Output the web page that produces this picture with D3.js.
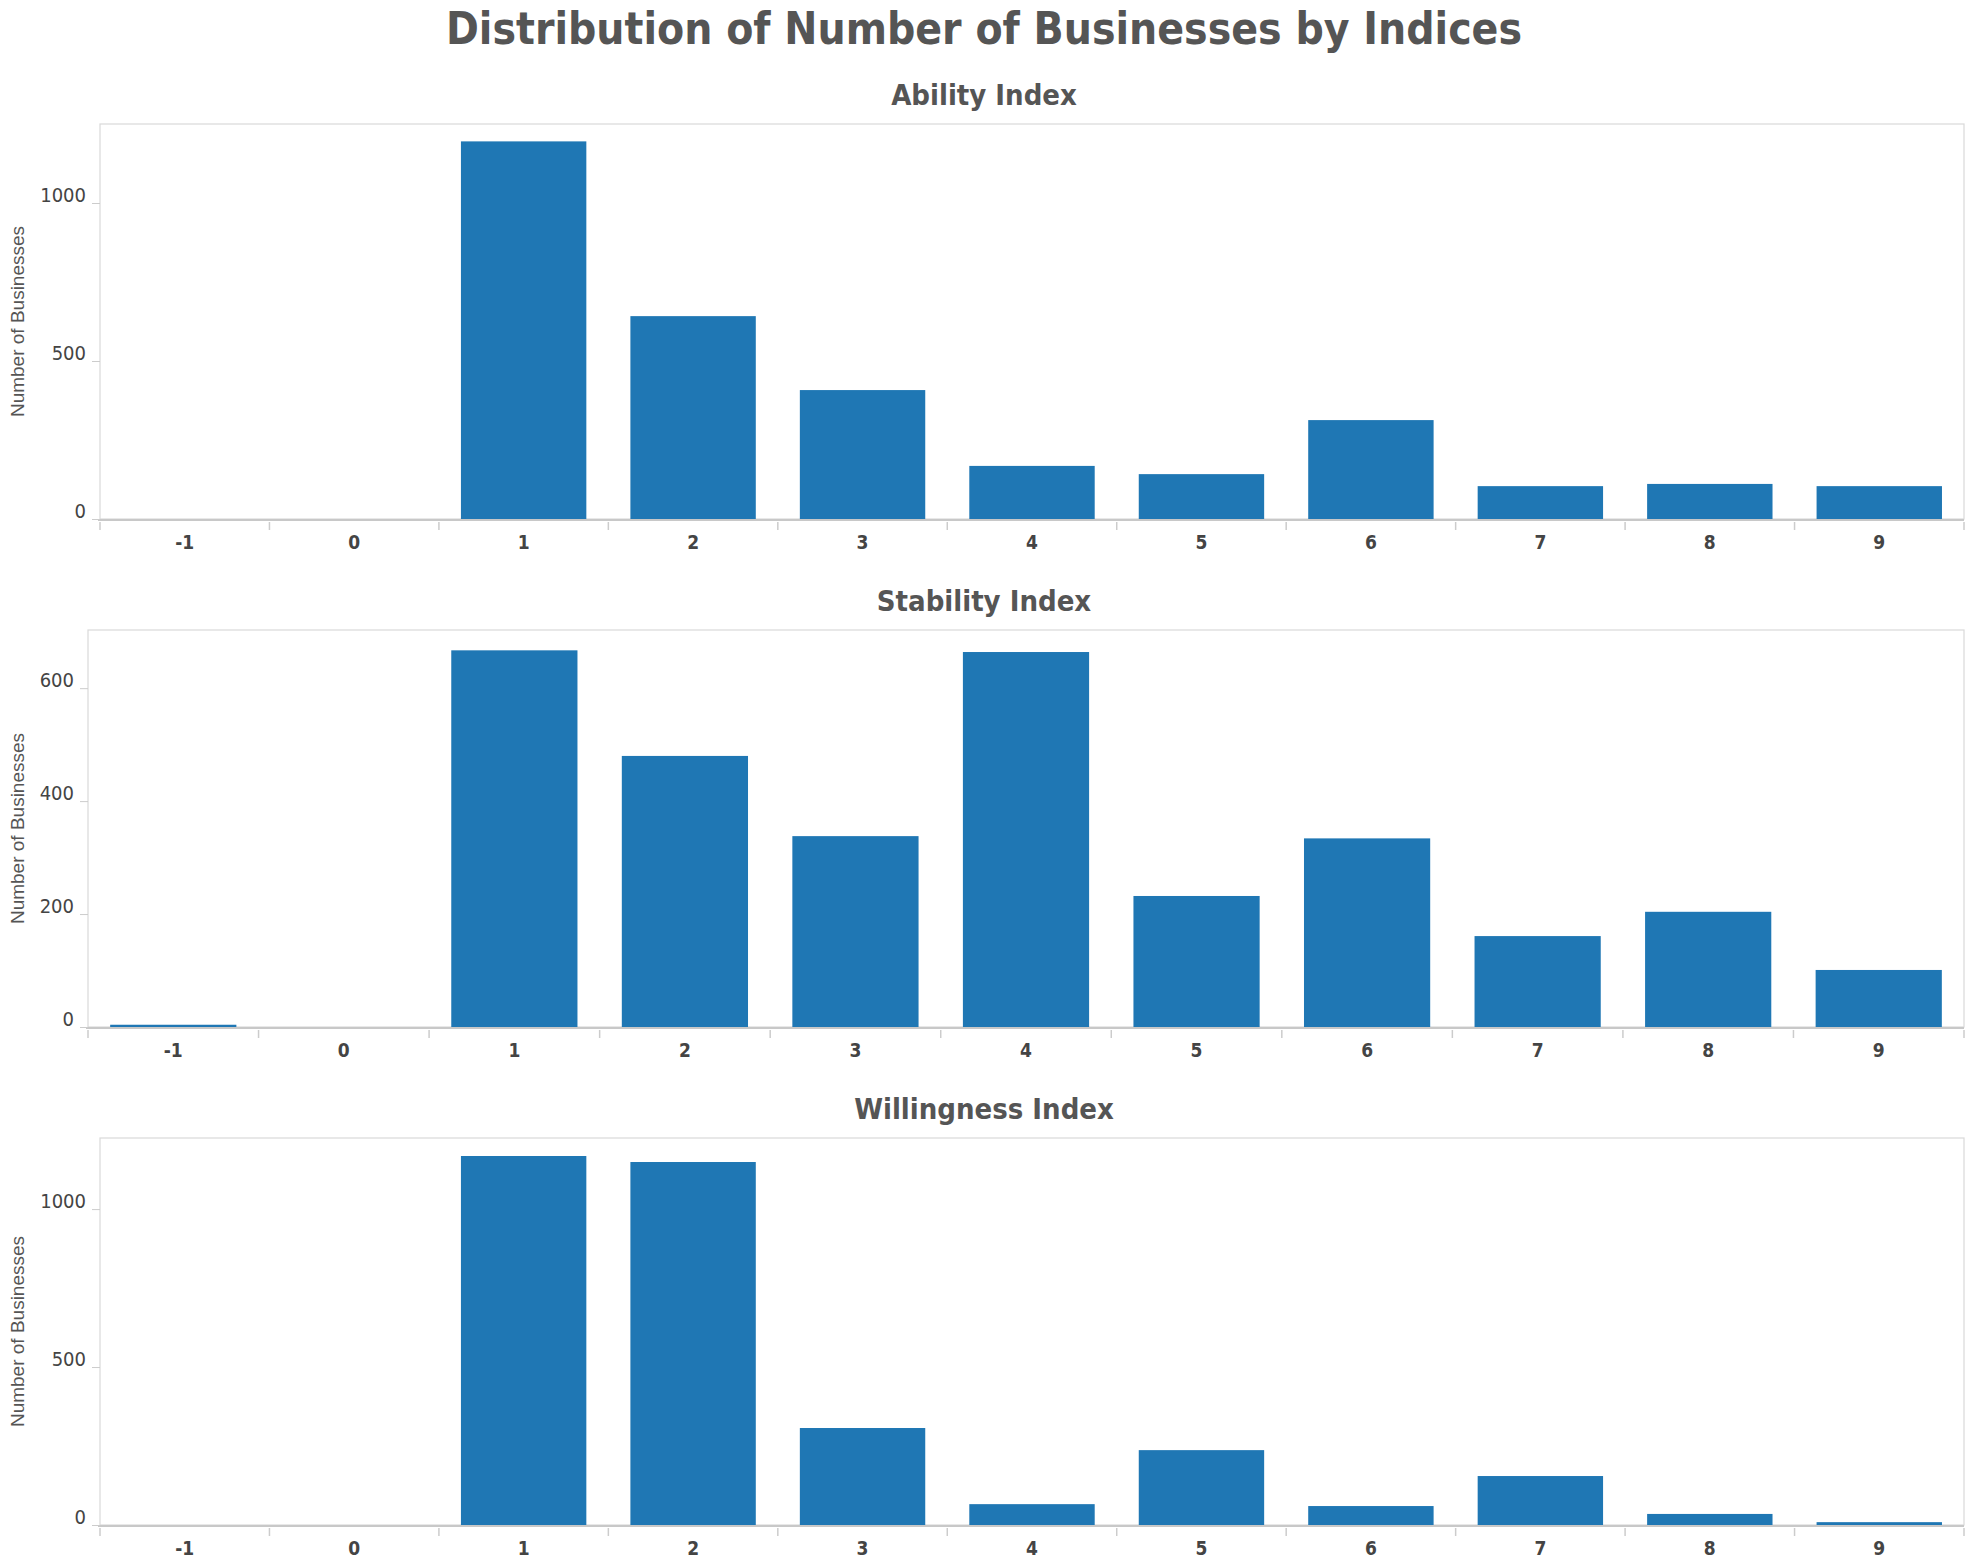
<!DOCTYPE html>
<html><head><meta charset="utf-8">
<script src="https://cdn.jsdelivr.net/npm/d3@7"></script>
<style>body{margin:0;background:#fff}</style></head>
<body><svg id="c" width="1968" height="1568"></svg>
<script>
const categories = ["-1","0","1","2","3","4","5","6","7","8","9"];
const abilityValues = [0,0,1195,642,408,168,142,313,104,111,104];
const stabilityValues = [4,0,667,480,338,664,232,334,161,204,101];
const willingnessValues = [0,0,1168,1149,307,66,237,60,155,35,9];
const panelTitles = ["Ability Index","Stability Index","Willingness Index"];
const yTicks = [[0,500,1000],[0,200,400,600],[0,500,1000]];
const yMax = [1250,703,1225];

const panels = [
  {title:panelTitles[0], values:abilityValues, ticks:yTicks[0], max:yMax[0], top:124, bottom:519, left:100, titleY:95},
  {title:panelTitles[1], values:stabilityValues, ticks:yTicks[1], max:yMax[1], top:630, bottom:1027, left:88, titleY:601},
  {title:panelTitles[2], values:willingnessValues, ticks:yTicks[2], max:yMax[2], top:1138, bottom:1525, left:100, titleY:1109}
];
const right = 1964;
const font = "'DejaVu Sans Condensed','DejaVu Sans',sans-serif";
const svg = d3.select("#c");
svg.append("text").attr("x",984).attr("y",44).attr("text-anchor","middle")
  .attr("font-family",font).attr("font-weight","bold").attr("font-size",44).attr("fill","#555")
  .text("Distribution of Number of Businesses by Indices");

panels.forEach(p=>{
  const g = svg.append("g");
  const x = d3.scaleBand().domain(categories).range([p.left,right]).paddingInner(0.26).paddingOuter(0.13);
  const y = d3.scaleLinear().domain([0,p.max]).range([p.bottom,p.top]);
  g.append("text").attr("x",984).attr("y",p.titleY+10).attr("text-anchor","middle")
    .attr("font-family",font).attr("font-weight","bold").attr("font-size",29).attr("fill","#555").text(p.title);
  g.append("rect").attr("x",p.left).attr("y",p.top).attr("width",right-p.left).attr("height",p.bottom-p.top)
    .attr("fill","none").attr("stroke","#d9d9d9").attr("stroke-width",1.2);
  g.selectAll(".bar").data(p.values).join("rect")
    .attr("x",(d,i)=>x(categories[i])).attr("width",x.bandwidth())
    .attr("y",d=>y(d)).attr("height",d=>p.bottom-y(d)).attr("fill","#1f77b4");
  // baseline
  g.append("line").attr("x1",p.left-2).attr("x2",right).attr("y1",p.bottom+1).attr("y2",p.bottom+1)
    .attr("stroke","#c8c8c8").attr("stroke-width",2);
  // x tick marks at band edges
  const step = x.step();
  const edges = categories.map((c,i)=>p.left+i*(right-p.left)/categories.length).concat([right]);
  g.selectAll(".xt").data(edges).join("line").attr("x1",d=>d).attr("x2",d=>d)
    .attr("y1",p.bottom+3).attr("y2",p.bottom+11).attr("stroke","#ccc").attr("stroke-width",1.5);
  g.selectAll(".xl").data(categories).join("text").attr("x",d=>x(d)+x.bandwidth()/2).attr("y",p.bottom+30)
    .attr("text-anchor","middle").attr("font-family",font).attr("font-weight","bold").attr("font-size",19)
    .attr("fill","#444").text(d=>d);
  // y axis
  const ya = g.append("g").attr("transform",`translate(${p.left},0)`)
    .call(d3.axisLeft(y).tickValues(p.ticks).tickSize(8).tickPadding(6).tickFormat(d3.format("d")));
  ya.select(".domain").remove();
  ya.selectAll("line").attr("stroke","#ccc");
  ya.selectAll("text").attr("font-family",font).attr("font-size",20).attr("fill","#444").attr("dy","-0.1em");
  g.append("text").attr("transform",`translate(24,${(p.top+p.bottom)/2}) rotate(-90)`)
    .attr("text-anchor","middle").attr("font-family","'Liberation Sans',Arial,sans-serif").attr("font-size",19)
    .attr("fill","#555").text("Number of Businesses");
});
</script></body></html>
